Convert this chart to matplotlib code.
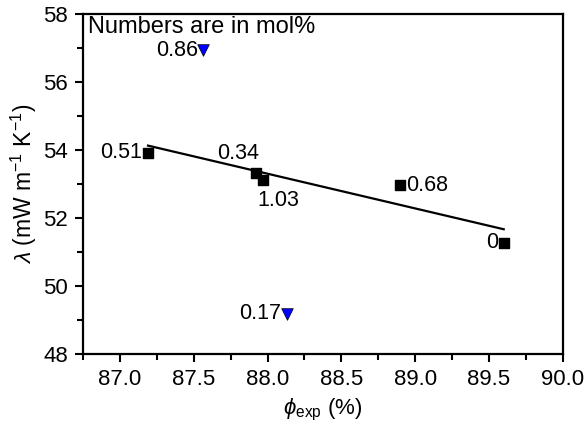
import matplotlib
matplotlib.use("Agg")
import matplotlib.pyplot as plt
from matplotlib.ticker import MultipleLocator

plt.rcParams["font.family"] = ["Liberation Sans", "DejaVu Sans"]
plt.rcParams["mathtext.fontset"] = "custom"
plt.rcParams["mathtext.rm"] = "Liberation Sans"
plt.rcParams["mathtext.it"] = "Liberation Sans:italic"

# squares (fitted series)
sq_x = [87.19, 87.92, 87.97, 88.90, 89.60]
sq_y = [53.92, 53.33, 53.12, 52.97, 51.28]
sq_lab = ["0.51", "0.34", "1.03", "0.68", "0"]

# blue triangles (outliers)
tri_x = [87.565, 88.13]
tri_y = [56.93, 49.18]
tri_lab = ["0.86", "0.17"]

# linear fit line ends
fit_x = [87.19, 89.60]
fit_y = [54.13, 51.67]

fig = plt.figure(figsize=(5.85, 4.25), dpi=100)
ax = fig.add_axes([0.142, 0.167, 0.820, 0.800])

ax.plot(fit_x, fit_y, color="black", linewidth=1.6, zorder=2)
ax.scatter(sq_x, sq_y, marker="s", s=60, color="black", zorder=3)
ax.scatter(tri_x, tri_y, marker="v", s=70, color="#0000ff",
           edgecolors="black", linewidths=0.5, zorder=3)

# point labels: (dx, dy) offsets in points, alignment
offsets = {
    "0.51": (-4, 0, "right", "center"),
    "0.34": (-13, 6, "center", "bottom"),
    "1.03": (11, -7, "center", "top"),
    "0.68": (4, 0, "left", "center"),
    "0": (-4, 0, "right", "center"),
    "0.86": (-4, 0, "right", "center"),
    "0.17": (-4, 0, "right", "center"),
}
for x, y, t in zip(sq_x + tri_x, sq_y + tri_y, sq_lab + tri_lab):
    dx, dy, ha, va = offsets[t]
    ax.annotate(t, (x, y), xytext=(dx, dy), textcoords="offset points",
                ha=ha, va=va, fontsize=15.5)

ax.text(0.01, 0.995, "Numbers are in mol%", transform=ax.transAxes,
        ha="left", va="top", fontsize=17)

ax.set_xlim(86.75, 90.0)
ax.set_ylim(48, 58)
ax.xaxis.set_major_locator(MultipleLocator(0.5))
ax.xaxis.set_minor_locator(MultipleLocator(0.25))
ax.yaxis.set_major_locator(MultipleLocator(2))
ax.yaxis.set_minor_locator(MultipleLocator(1))

for s in ax.spines.values():
    s.set_linewidth(1.6)
ax.tick_params(which="major", direction="out", length=6, width=1.5,
               labelsize=16, top=False, right=False, pad=5)
ax.tick_params(which="minor", direction="out", length=4, width=1.5,
               top=False, right=False)

ax.set_xlabel(r"$\phi_{\mathrm{exp}}$ (%)", fontsize=16, labelpad=5)
ax.set_ylabel(r"$\lambda$ (mW m$^{-1}$ K$^{-1}$)", fontsize=16.5, labelpad=3)

fig.savefig("out.png", dpi=100)
